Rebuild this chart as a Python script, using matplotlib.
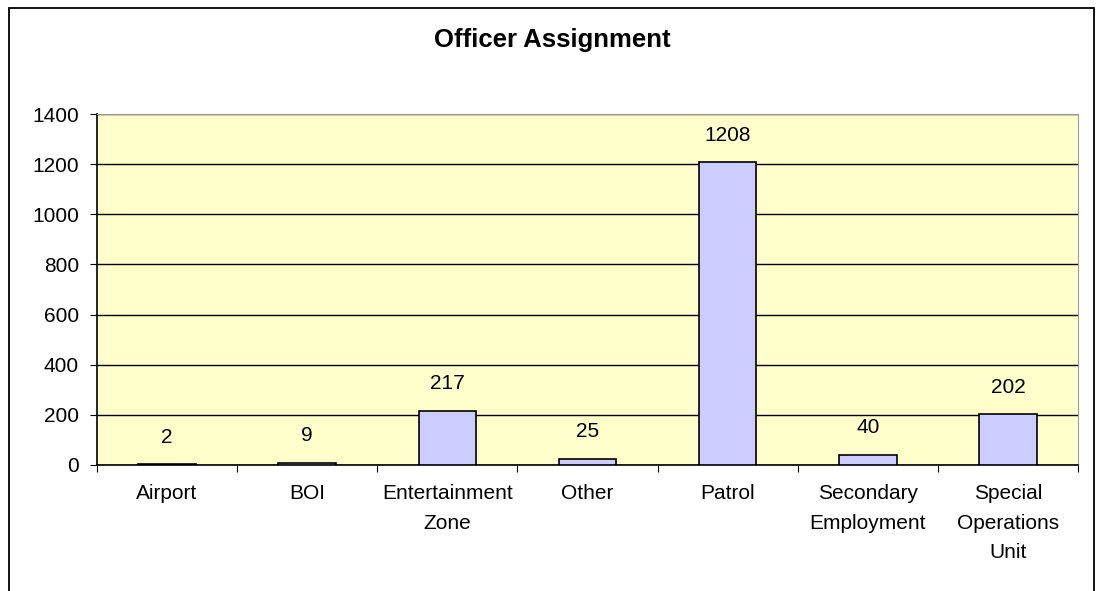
import matplotlib.pyplot as plt
from matplotlib.patches import Rectangle

categories = ['Airport', 'BOI', 'Entertainment\nZone', 'Other', 'Patrol',
              'Secondary\nEmployment', 'Special\nOperations\nUnit']
officers = [2, 9, 217, 25, 1208, 40, 202]
y_ticks = [0, 200, 400, 600, 800, 1000, 1200, 1400]

plt.rcParams['font.family'] = ['Liberation Sans', 'DejaVu Sans']

fig = plt.figure(figsize=(11.04, 5.91), dpi=100)
ax = fig.add_axes([97 / 1104, 1 - 465 / 591, (1078 - 97) / 1104, (465 - 114) / 591])

# outer chart border (open at the bottom, as in the reference crop)
fig.patches.append(Rectangle((9 / 1104, -0.01), (1094 - 9) / 1104, 1 - 8 / 591 + 0.01,
                             transform=fig.transFigure, fill=False,
                             edgecolor='black', linewidth=1.3))

x = list(range(len(categories)))
bars = ax.bar(x, officers, width=0.41, color='#CCCCFF', edgecolor='black',
              linewidth=1.2, zorder=3)
for xi, v in zip(x, officers):
    ax.annotate(str(v), (xi, v), xytext=(0, 19.5), textcoords='offset points',
                ha='center', va='center', fontsize=15)

ax.set_facecolor('#FFFFCC')
ax.set_xlim(-0.5, len(categories) - 0.5)
ax.set_ylim(0, 1400)
ax.set_yticks(y_ticks)
ax.set_yticklabels([str(t) for t in y_ticks], fontsize=15)
ax.yaxis.grid(True, color='black', linewidth=1)
ax.set_axisbelow(True)

ax.set_xticks([i + 0.5 for i in range(-1, len(categories))])
ax.set_xticklabels([])
ax.set_xticks(x, minor=True)
ax.set_xticklabels(categories, minor=True, fontsize=15, linespacing=1.7)
ax.tick_params(axis='x', which='minor', length=0, pad=14)
ax.tick_params(axis='x', which='major', length=5, direction='out')
ax.tick_params(axis='y', length=5, direction='out', pad=8)

ax.spines['top'].set_color('#999999')
ax.spines['right'].set_color('#999999')
ax.spines['left'].set_linewidth(1.2)
ax.spines['bottom'].set_linewidth(1.2)

fig.text(0.5, 1 - 40 / 591, 'Officer Assignment', ha='center', va='center',
         fontsize=18.5, fontweight='bold')

fig.savefig('out.png', dpi=100)
